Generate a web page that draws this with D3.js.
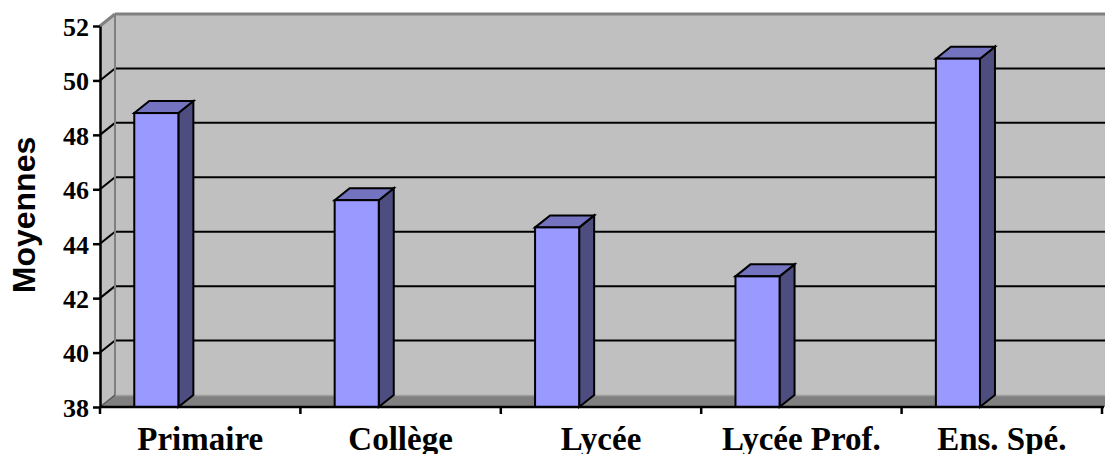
<!DOCTYPE html>
<html><head><meta charset="utf-8">
<script src="https://cdn.jsdelivr.net/npm/d3@7"></script>
<style>body{margin:0;background:#fff}svg{display:block}</style>
</head><body>
<script>
const categories = ["Primaire", "Collège", "Lycée", "Lycée Prof.", "Ens. Spé."];
const moyennes = [48.8, 45.6, 44.6, 42.8, 50.8];
const yTicks = [38, 40, 42, 44, 46, 48, 50, 52];
const yTitle = "Moyennes";

const W = 1105, H = 454;
const DX = 15, DY = -12;
const svg = d3.select("body").append("svg").attr("width", W).attr("height", H);

const x = d3.scaleBand().domain(categories).range([100, 1102]).padding(0);
const y = d3.scaleLinear().domain([38, 52]).range([407, 26]);
const x0 = x.range()[0], x1 = x.range()[1];
const yb = y(38), yt = y(52);
const serif = "'Liberation Serif', 'Times New Roman', serif";

// back wall
svg.append("rect").attr("x", x0 + DX).attr("y", yt + DY).attr("width", W - (x0 + DX)).attr("height", yb - yt)
  .attr("fill", "#c0c0c0");
// side wall
svg.append("polygon").attr("points", [[x0, yt], [x0 + DX, yt + DY], [x0 + DX, yb + DY], [x0, yb]].join(" "))
  .attr("fill", "#c0c0c0");
// floor
svg.append("polygon").attr("points", [[x0, yb], [W + 20, yb], [W + 20 + DX, yb + DY], [x0 + DX, yb + DY]].join(" "))
  .attr("fill", "#808080");
svg.append("line").attr("x1", x0 + DX).attr("x2", W).attr("y1", yb + DY + 0.5).attr("y2", yb + DY + 0.5)
  .attr("stroke", "#a0a0a0").attr("stroke-width", 1.5);

// gridlines
const grid = yTicks.filter(t => t > 38 && t < 52);
svg.selectAll("line.gb").data(grid).join("line").attr("class", "gb")
  .attr("x1", x0 + DX).attr("x2", W).attr("y1", d => y(d) + DY).attr("y2", d => y(d) + DY)
  .attr("stroke", "#000").attr("stroke-width", 2);
svg.selectAll("line.gs").data(grid).join("line").attr("class", "gs")
  .attr("x1", x0).attr("x2", x0 + DX).attr("y1", d => y(d)).attr("y2", d => y(d) + DY)
  .attr("stroke", "#000").attr("stroke-width", 2);

// wall edges
svg.append("line").attr("x1", x0 + DX).attr("x2", W).attr("y1", yt + DY).attr("y2", yt + DY)
  .attr("stroke", "#808080").attr("stroke-width", 3);
svg.append("line").attr("x1", x0).attr("x2", x0 + DX).attr("y1", yt).attr("y2", yt + DY)
  .attr("stroke", "#808080").attr("stroke-width", 3);
svg.append("line").attr("x1", x0 + DX).attr("x2", x0 + DX).attr("y1", yt + DY).attr("y2", yb + DY)
  .attr("stroke", "#808080").attr("stroke-width", 2);
svg.append("line").attr("x1", x0).attr("x2", x0 + DX).attr("y1", yb).attr("y2", yb + DY)
  .attr("stroke", "#555").attr("stroke-width", 1.5);

// bars
const bw = x.bandwidth();
const bars = svg.selectAll("g.bar").data(categories.map((c, i) => ({c, v: moyennes[i]}))).join("g").attr("class", "bar");
bars.each(function(d) {
  const g = d3.select(this);
  const bx = x(d.c) + bw * 0.171, bwid = bw * 0.22;
  const top = y(d.v), bot = y(38);
  const sty = s => s.attr("stroke", "#000").attr("stroke-width", 2).attr("stroke-linejoin", "miter");
  g.append("polygon").attr("points", [[bx + bwid, top], [bx + bwid + DX, top + DY], [bx + bwid + DX, bot + DY], [bx + bwid, bot]].join(" "))
    .attr("fill", "#4d4d80").call(sty);
  g.append("polygon").attr("points", [[bx, top], [bx + DX, top + DY], [bx + bwid + DX, top + DY], [bx + bwid, top]].join(" "))
    .attr("fill", "#7373bf").call(sty);
  g.append("rect").attr("x", bx).attr("y", top).attr("width", bwid).attr("height", bot - top)
    .attr("fill", "#9999ff").call(sty);
});

// y axis
const yAxis = svg.append("g").attr("transform", `translate(${x0},0)`)
  .call(d3.axisLeft(y).tickValues(yTicks).tickFormat(d3.format("d")).tickSize(7).tickPadding(4).tickSizeOuter(0));
yAxis.attr("font-size", null).attr("font-family", null);
yAxis.select(".domain").attr("stroke", "#000").attr("stroke-width", 2.5);
yAxis.selectAll(".tick line").attr("stroke", "#000").attr("stroke-width", 2.5);
yAxis.selectAll(".tick text")
  .style("font-family", serif).style("font-weight", "bold").style("font-size", "26px")
  .attr("fill", "#000").attr("dy", "0.36em");

// x axis
svg.append("line").attr("x1", x0).attr("x2", x1 + 2).attr("y1", yb).attr("y2", yb).attr("stroke", "#000").attr("stroke-width", 2.5);
const bounds = categories.map(c => x(c)).concat([x1]);
svg.selectAll("line.xt").data(bounds).join("line").attr("class", "xt")
  .attr("x1", d => d).attr("x2", d => d).attr("y1", yb).attr("y2", yb + 7)
  .attr("stroke", "#000").attr("stroke-width", 2.5);
svg.selectAll("text.xl").data(categories).join("text").attr("class", "xl")
  .attr("x", d => x(d) + bw / 2).attr("y", 450).attr("text-anchor", "middle")
  .style("font-family", serif).style("font-weight", "bold")
  .style("font-size", "33px").attr("fill", "#000").text(d => d);

// y title
svg.append("text").attr("transform", "translate(35,215) rotate(-90)").attr("text-anchor", "middle")
  .style("font-family", "'Liberation Sans', Arial, sans-serif").style("font-weight", "bold")
  .style("font-size", "32px").attr("fill", "#000").text(yTitle);
</script>
</body></html>
